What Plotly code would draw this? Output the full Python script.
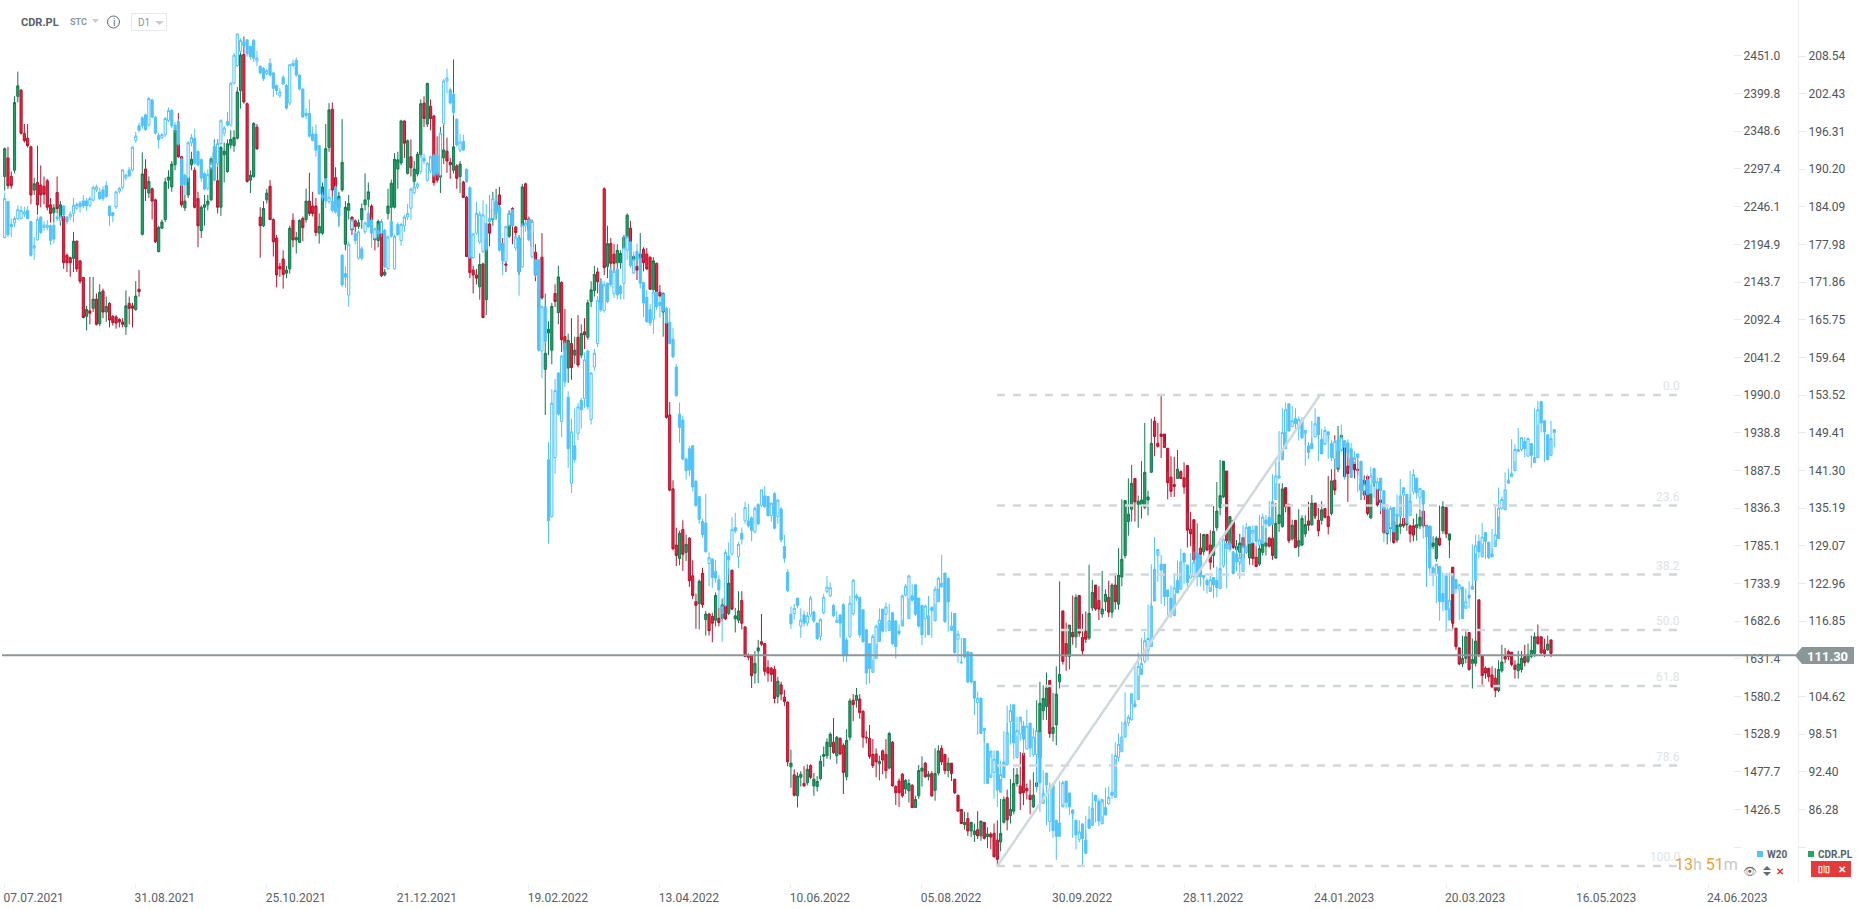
import plotly.graph_objects as go

# CDR.PL daily candles
cdr_open = [189,192,189,190,202,203,196,195.2,193.8,186.8,
188,187.6,187.4,188.3,184.4,183.1,186.4,182.5,182.5,176.2,
175.8,175.7,178.5,175.3,172.6,166.3,167.2,167.6,169.1,165.1,
170.4,167,168.4,166.3,166.2,165.8,165.4,164.6,168.4,168,167.4,170.7,
179.6,190.2,186.3,187,185.2,176.8,180.6,182,188.4,
187.3,190.9,194.3,192.2,183.9,186,190.9,190,185.4,180.2,
184,184.4,185.2,192,188.3,184,192.5,189.8,194.1,194,195.2,
202.9,208.8,200.8,188.4,189,197,182.4,181,185.2,187.4,
182,179,174.4,175.6,173.3,174,181.9,178.7,178.3,182.2,
182,185,184.2,184.2,179.8,179.8,188.7,193.7,199.9,188.8,
184,186.8,178,183.5,182.4,181.8,180.9,182,184.4,185.3,
184.2,179,178.6,181.6,173,183,184,184,190.2,191.2,
198,189.5,192.2,188.2,189.4,192.5,200.9,197.5,200.4,198.8,
189.6,188.9,192,193.1,191.3,190,190.7,189,188.1,185.6,
176,173.8,173,171.1,174.8,169,181.3,182,183.5,186,178.1,
174.8,179.3,183.8,180.8,173.5,180.8,187.8,182.1,179.9,176.7,
167.8,175.9,157.7,163.6,160.8,170,166.9,171.8,163,157.9,
161.9,160,162.9,160,163.8,162.9,168.7,170.5,173.5,168.5,
187,174.4,178.1,176.4,175,
175,177.3,179.1,180.6,175.5,174.4,175.7,177.2,176.4,175.9,
170.6,174.9,170.2,167,165.2,150.3,138.3,129.2,127,131.7,
128,130.3,124.2,120,119.7,124.6,117.1,118,117.6,117,
117.3,117.3,120.7,118.1,125.1,117.2,117,120.2,115.9,111.2,111.2,
108.4,112,113.5,113.2,109.3,109.2,109,104.6,106.5,104.5,
103.7,93.2,91.9,88.5,91.5,90.5,90.6,93.4,90.1,90,
91.3,94.9,95,96.5,97.2,95,97.8,96.7,91.6,98,
104,104,104.2,102.2,98,97.8,95.2,95.3,93.7,95.8,95.2,
93,97.2,90,90.9,92,89.6,89.3,90.2,86.6,88.5,
92.5,93.8,91.6,92.1,89.4,92.2,96.2,95.2,92.6,93.8,
91.2,88.6,86.3,83.8,84.8,82.8,82.2,83,82,84.2,
81.9,82.3,82.4,81.3,81,84.2,88.2,85.3,86,90.5,
90.1,95.4,89.7,88.6,86.7,90,94.6,102.3,103,107.2,
98.6,100,107,118.5,113.2,111.1,115,114.3,121,114.2,
115.2,114.1,119,122.7,120.2,118,120,120.7,118.3,122.7,
119.6,124,127.5,133,135,140,135.8,135.8,135.3,141,
149.3,145.7,147.2,147.2,144.9,140.2,139,140,141.1,140.1,
142.1,131.7,133.3,127.1,128.7,128.1,130.9,129.2,127.5,132,
135.3,137,141.2,129.3,133.2,128.4,128,130.4,127.1,129.5,
127.2,126.1,128,129,130.3,130.3,127.1,132.7,132.2,138.5,
135.8,130.2,133.2,129,129.2,131,133.1,132.5,136,133.2,
133.2,135.1,133.8,134.3,139.7,141.5,146,145.7,142,143.3,
143.3,138.2,139.7,140.3,133.6,139.4,138.4,136.5,135.2,131,
131.9,133,130,132.2,133.5,132.3,132.3,132,132.3,134.7,
132,132.2,129,127,130.3,131.5,135.3,130,125.6,115.7,
112.5,109.9,110.8,115,110,110,120.3,111.2,109.2,109.2,
108.1,107.6,105.6,108.8,111.1,111.9,111.8,109.7,108.8,109,
111.1,110.3,111.1,111.6,114.3,114.3,112.2,112.2,113.8,112.4]

cdr_close = [193.5,187.5,187.5,201,203.7,196,194.8,194,186,187.8,
184.4,186,186.1,184,183,183.9,183.8,184.4,175,175,
175,178.5,174,172,166.1,167.4,166.8,169.1,165,170.2,
167,167.9,165.7,165.3,165.2,165.4,165,168,167.6,167.6,169.6,170.3,
189.4,187,188.2,185,178.4,180.7,181.6,188.1,188.9,
191,196.5,192.2,184.4,185,189,191.8,184,181,184,
184.4,185,191.9,193,184,193.7,193.1,194.3,195,195.3,202.7,
208.7,201.1,188.2,189.2,197.6,193.5,181,183.8,186.3,182,
178.4,173,174,173.1,173.8,180.6,178.7,179.1,181.9,180.7,
185,183,183,179.9,180.9,187.3,193.5,199.8,186.8,187,
185.8,191.3,184,184.6,180.3,180.9,181.5,183.8,185.2,186.5,
181.9,178.7,181.7,172.9,173.5,184.2,187.9,191.8,191.7,198,
194.4,194.8,190.4,190.2,192.6,200.8,198.4,204.1,198.4,188,
188.4,195.5,193.3,191.5,190.9,193.8,188.7,191,185.6,176,
173.4,173,172.5,174.7,166.1,178.8,179.8,183.7,184.9,184.4,177,
174.6,183,181.1,179.9,179,187.3,182,180.3,177.6,173,
170.6,169.3,160.3,164.2,167.9,168.7,172.7,162.5,160.8,162.4,
158,160.8,158.4,163.5,163.3,168.5,170.6,173.1,171.9,171.5,
174.2,178.1,174.9,174.9,177,
176.5,179.1,182.7,178.4,176,173.8,176.4,175,174,170.7,
175.3,170.3,169.6,170,149.9,138.1,128.6,127.5,131.1,127.7,
129.3,123.4,121,119.4,123.3,119.5,118,115.3,116.5,121,
116.6,119.5,117.2,123,118.8,117.7,118.5,116.5,111.1,111,108,
110,112.5,113.1,108.7,108.4,108.2,104.3,107.1,105,103.8,
94,93.8,88.6,91.7,92,90.1,92.8,91.5,91.2,90.8,
94.1,95.2,97.2,98.5,95.5,98,95.3,92.3,97.5,103.9,
103.3,104.8,102,98,97.9,94.9,93.4,94,94.1,94.3,92.6,
98.6,90.1,89,89,88.5,91,90.5,86.6,87.9,92.6,
93,91.6,92,88.5,92.1,95.8,94,92.6,93.8,92.1,
89,86,84,84.2,82.8,84.2,82.8,82,84.4,81.6,
82.3,81.8,78.6,78.2,82.4,87.9,84.6,86.3,90.5,91.9,
88.9,89,89.3,87.9,88.6,90.6,103.5,104.3,106,98.6,
99.6,105,108.2,110.3,111.2,116.2,114.3,120.7,114.9,112,
113.9,118.1,121.5,118.8,118.8,118.8,121.2,118.3,122.7,120,
124.3,126.9,136.4,134.2,139.2,136.2,136.3,136.5,141,145.7,
146.8,145.2,146.8,145,139.3,137.9,138.7,141.5,140,138.6,
131.6,131,126.8,127.5,127.7,130.9,128.4,126.4,131.4,134.7,
137.2,142.8,129.9,133.8,128.8,129,129.5,127.1,129.5,127,
125.7,128.6,129.8,129.5,129,127.5,132.7,134.1,138.3,135.4,
129.9,132.4,128.8,129.9,133.5,132.5,132.4,136,133.9,131.5,
134.9,133.7,132.2,139.6,138.1,144.4,147,140.3,140.8,141.6,
141.4,139,137.3,134.3,137.6,139.6,135.7,136.1,131.2,131.6,
132.7,129.6,132.4,132.6,132.3,131,130.8,132.5,133.7,132.3,
132.4,128.6,129.5,130.3,129.2,135.4,131,131,116.5,112.7,
109.9,110.8,114.3,109,110.6,113.6,111.4,108,108.4,107.8,
106.2,105.6,109,110.2,110.7,111.1,109.8,109,109.9,110.8,
110.1,111.4,112.1,114.3,113.2,111.7,111.6,113.1,111.6,111.3]

cdr_high = [193.7,193.8,189.8,202,206,203.2,197.5,197.5,194,188.8,
194,190.8,189,188.6,185.5,184.5,189,185,184,176.5,
176,180,178.6,175.4,172.7,168,172.7,172.7,170,171.5,
170.8,169.5,168.6,166.5,166.5,166,166,170.5,169.5,168.5,172,173.8,
192.9,191.8,189,187.2,185.4,181,182,188.8,190,
191.5,197,199.3,192.3,186,189.5,193,190.5,186.5,184.3,
186,186,192,195,195,194,194.5,195,196.5,196.5,203.5,
209.5,211.7,201,190,197.8,197.5,184,185,187,188.4,
182.2,179.5,175,177,174.5,181,183,180,182,182.5,
187,189.6,186.5,185.5,183,188,197.5,200.9,201,190.5,
186.5,198.3,185,186,182.5,182,182,184.6,189.5,188,
184.5,180,182,182,174,187,188.5,192.8,193,198.2,
198.1,195,195,191.5,193,201.5,202,204.2,201.5,199,
195.5,197,197.5,195.3,192,208,191,191.5,188.3,185.8,
176.2,174.5,174,176.5,175,179,186,186.5,187,187.3,179,
175.5,183.5,184,181,179.5,187.8,188,182.5,182,178,
171.5,179.8,170,165.5,168.5,171.5,174.5,172,167.5,163.5,
166,163,166.5,165,166,169,172,174.5,174.2,172.5,
187.2,181,179,178,178,
177,179.5,183,181.8,176.3,176,179.8,177.5,177.4,176,
175.9,175,171.4,170.2,165.5,152.4,139.7,132,131.5,133.2,
130.9,130.5,126.7,121.3,123.6,125.5,118.5,118.2,118.2,121.5,
119,120.5,121.5,125.4,125.2,119,121.7,121.7,116,111.6,111.4,
112,113.8,118,113.3,110.5,109.4,109.6,107.8,107,105.7,
103.8,96,92.8,92.3,92.5,93.3,93.6,93.6,92.2,91.7,
95,96.5,97.8,98.8,101.1,98.2,98,97,99.3,104.3,
105,106,105,102.4,99,100,97.7,96.2,95,96,97.7,
98.9,97.4,90.2,91.3,92.2,91.2,91.2,90.4,88.5,93.5,
94.9,94,92.5,92.5,96.2,96.7,96.7,94.5,94.7,
91.4,88.8,86.5,86,85.9,85.8,83.3,84,86,84.4,
83,83.4,82.6,84,84.5,88,88.4,89.5,91.2,93,
93,95.6,91,90.5,91.1,92.3,104,107,106.4,108.5,
103.5,105.2,109.5,123.3,113.4,116.6,116.2,121,121.2,117,
118,118.4,126,123.5,120.5,122.5,125,122,123.4,123,
124.6,128.7,136.6,135.8,140,142.2,137,137.2,142.8,149,
149.7,150,149,153.5,145.9,141,143.6,143.5,144.6,141.3,
142.6,134.4,134.6,129.5,132.7,131.1,131,130,131.6,135.5,
139.4,143,141.3,134.5,133.4,131,130,131,130,130,
127.3,129,130.2,130,132,130.5,133,136,139.2,139.2,
136,134.2,133.3,130.5,135,134,134,136.2,137.3,133.4,
135.2,136.3,134.2,140.4,141.5,147,148.5,146,143,145.2,
143.6,140,140,140.5,138.2,140.5,138.8,137.5,135.4,132.5,
133,133.2,132.8,134,134.2,132.5,132.5,133.5,134.3,135,
133,132.4,130,130.6,130.6,135.6,136.3,131.3,127.1,116,
112.8,111.2,114.5,115.2,111,114,124.3,111.6,110,109.5,
108.5,109.5,109.2,110.5,113,112.5,112.2,110,110.5,112,
112,113,113.2,114.5,115,116.3,113,114,114.5,112.5]

cdr_low = [186.7,187,187,189.5,201,195.8,194.5,193.7,184.5,186,
182.8,184,184.5,183.5,181.5,181.5,183,181,174,173.5,
172.7,173.5,173.5,171.6,166,164,165,167,164.8,164.7,
166,165.4,164.5,164.8,164.3,164.5,164.5,163.3,165,164.5,167.2,169.5,
179.4,185,185.5,182,178.2,176.7,180.5,181.6,187,
186.5,190,192,184,183.4,185.5,190,183.8,177.5,179,
181,183.5,185,191,183,182.6,188,189.6,193.5,193,195,
200,200.8,188,186.3,188.8,193.3,175.8,180.8,184.6,182,
176,171,172.7,170.8,172.5,173.2,177.5,176.5,178.2,178.5,
181.5,182.6,182.5,179.3,178.1,179.5,187.5,193,185,185,
181,186.5,177,182,179.5,180,180.5,180.5,183.5,184,
179,177,177.5,172.7,172.8,182,181,183.8,187,190.8,
192,189.3,189,187.5,189,192.2,197,197,196.5,187.5,
188,186.3,191,189.6,188.6,189.5,187,186.3,185.5,176,
172.5,170,171.5,169,166,166.5,177.7,181,182,180,174.7,
173.5,179,178,178.5,173,180.5,181.5,179.5,177,172,
166.5,169,150.3,160,158.5,167.8,165,160.5,159,155.5,
156,158.6,158,159.5,161,162.5,167.8,169.5,170,167.5,
173,172.5,173,172.5,173,
174,176.5,178.5,176.5,173.2,172.2,174,173.6,173.8,170.6,
170,170,169.4,163,149.7,137.9,128.3,125.8,125.9,125,
126.6,122.4,120.4,115.6,115.5,119,114.5,114.5,113.4,116,
116,116.8,117,117.8,118.6,115,116.5,115.5,111,110.5,106,
106.7,106.8,112.8,108,107,107,103.5,103.5,104,103.1,
93.3,89.8,88.4,86.6,90,90,90.2,91.2,88.5,89.2,
91,93.2,94.5,94.4,95.3,93.7,95.1,88.8,91,97.5,
100.6,102.8,101,96.3,97,94.5,93,91.5,91,92,91.3,
92.8,90,87,86.7,88.2,88.8,87.4,86.5,86.5,88,
90,91.4,91,88.3,87.7,91.8,93.5,92,91.5,90.9,
88.9,86,83.9,83,82,81.8,81,81.5,81.2,81.4,
80,79.8,78.5,77,79.5,84,82.9,84,85.5,90,
86.2,87,87.9,85.5,86.5,89.5,94,100.8,100.8,97.9,
97.3,96.7,105.9,109.8,108.8,109,113,112.5,114.3,111.3,
113.3,113.8,118.5,118.5,117,117.4,118.5,117.5,117.4,118.7,
118.7,122.5,127,130.7,133,133,132,133.5,135,140.9,
143.6,145,143.3,145,136.6,137,137,139.9,139.9,137.5,
128.8,129,125,126.5,127.5,127.5,128.2,125.2,125.5,131.5,
134,136.8,129.5,128.8,128.5,127.5,126,126.5,126,125.9,
125.6,125.8,127.5,127.5,128.8,126.8,126.9,131.3,132,134.5,
129.5,129.9,128.7,127.3,129,130.5,131.5,132.3,133.5,130.6,
132.5,133.5,130.9,134,137.3,141,145,140,136.2,140.5,
141,136.5,136.5,134,133.4,138.6,135.4,134.2,131,129.3,
131,129.4,129.6,131,132,129.6,129.8,129.9,131.8,132,
131.3,128.3,128.5,126.5,129,131,130.3,129.1,115.5,112.2,
109.7,109.4,110,108.8,105.9,109.5,111,106.5,107.5,107,
106,104.5,105.3,108.5,110,110.5,109.5,107.5,107.5,108.5,
109.5,110,110.8,111,113,111.5,111,112,111,110.7]

# CDR.PL sessions picked up on a second look, with the place they belong
cdr_more_at = [349,378,411,425]
cdr_more_open = [136.5,129.3,141.5,132.5]
cdr_more_close = [137,128.8,141.3,132.8]
cdr_more_high = [138,130,143,133.5]
cdr_more_low = [134,127.8,140.5,131.5]

# WIG20 index candles
w20_open = [2204,2253,2222,2224,2230,2230,2236,2241,2226,2190,
2201,2232,2218,2218,2220,2221,2230,2227,2247,2232,
2237,2244,2251,2254,2254,2248,2255,2269,2266,2269,
2275,2247,2238,2246,2267,2272,2285,2296,2296,2336,
2356,2367,2371,2357,2391,2368,2343,2340,2344,2363,
2377,2357,2362,2311,2289,2285,2339,2321,2310,2291,
2271,2299,2328,2305,2332,2346,2362,2357,2414,2438,
2457,2470,2473,2464,2472,2444,2437,2434,2427,2441,
2428,2411,2397,2422,2411,2387,2441,2445,2425,2406,
2373,2373,2345,2345,2329,2284,2253,2253,2273,2255,
2180,2155,2126,2216,2210,2176,2189,2212,2237,2228,
2203,2214,2210,2214,2162,2226,2162,2222,2200,2220,
2232,2244,2265,2273,2294,2282,2295,2316,2316,2289,
2359,2417,2405,2399,2365,2323,2335,2297,2272,2177,
2210,2198,2185,2223,2230,2230,2253,2246,2196,2171,
2221,2242,2190,2203,2164,2228,2178,2174,2174,2050,
2110,1902,1825,1905,2020,1954,2060,1987,1870,1921,
1938,1983,1985,2050,1957,2028,2060,2144,2105,2142,
2160,2128,2161,
2138,2142,2187,2198,2156,2185,2176,2143,2123,2106,
2093,2129,2116,2127,2108,2089,2066,2028,1964,1956,
1903,1917,1921,1873,1852,1816,1761,1767,1750,1739,
1702,1704,1771,1774,1810,1770,1802,1819,1819,1823,
1804,1841,1840,1853,1852,1826,1856,1825,1835,1784,
1749,1692,1693,1714,1676,1691,1691,1695,1680,1662,
1694,1723,1717,1704,1681,1691,1705,1657,1662,1693,
1717,1715,1698,1671,1652,1613,1632,1655,1699,1692,
1670,1694,1683,1669,1676,1686,1717,1732,1714,1704,
1686,1664,1701,1683,1709,1729,1748,1741,1670,1693,
1658,1627,1659,1641,1640,1601,1572,1578,1534,1516,
1470,1477,1506,1450,1491,1487,1546,1569,1497,1529,
1540,1509,1544,1501,1501,1531,1435,1460,1410,1461,
1412,1390,1430,1465,1449,1426,1412,1386,1407,1385,
1413,1405,1446,1438,1407,1429,1434,1450,1443,1497,
1505,1525,1549,1570,1576,1610,1628,1643,1648,1710,
1772,1760,1760,1725,1714,1690,1738,1726,1775,1759,
1741,1743,1775,1772,1742,1738,1723,1742,1738,1727,
1758,1781,1777,1774,1763,1750,1776,1811,1802,1812,
1786,1788,1820,1824,1814,1848,1877,1902,1917,1978,
1947,1958,1945,1955,1938,1921,1924,1933,1960,1930,
1923,1940,1924,1903,1929,1914,1919,1917,1897,1910,
1900,1860,1875,1856,1890,1862,1877,1860,1834,1810,
1837,1828,1825,1854,1855,1826,1859,1877,1851,1860,
1812,1812,1747,1757,1720,1747,1684,1747,1739,1726,
1729,1700,1718,1730,1738,1791,1770,1803,1790,1774,
1784,1795,1834,1870,1879,1887,1913,1916,1927,1907,
1924,1898,1905,1981,1955,1936,1908,1943,1937]

w20_close = [2257,2208,2219,2230,2242,2241,2239,2230,2180,2193,
2229,2211,2221,2221,2200,2202,2232,2232,2235,2226,
2248,2249,2246,2247,2247,2257,2272,2273,2257,2257,
2260,2234,2234,2266,2271,2296,2289,2288,2327,2342,
2350,2356,2351,2393,2368,2346,2337,2344,2366,2377,
2356,2351,2331,2275,2276,2333,2305,2303,2285,2270,
2290,2305,2282,2332,2363,2353,2357,2414,2452,2481,
2472,2465,2454,2450,2448,2448,2428,2420,2431,2425,
2407,2404,2402,2413,2380,2439,2438,2425,2406,2368,
2370,2342,2336,2323,2264,2254,2259,2241,2239,2233,
2140,2150,2195,2228,2200,2212,2176,2224,2219,2210,
2216,2209,2226,2164,2205,2206,2206,2208,2222,2232,
2237,2270,2273,2277,2315,2305,2314,2289,2291,2346,
2417,2421,2387,2374,2330,2334,2323,2280,2177,2209,
2237,2236,2235,2188,2226,2257,2237,2187,2173,2219,
2237,2221,2205,2158,2221,2201,2226,2154,2051,2110,
2063,1819,1979,1996,1964,2043,2008,1917,1940,1902,
1974,1970,2038,1974,2020,2047,2119,2106,2140,2117,
2140,2158,2126,
2128,2190,2205,2166,2174,2174,2142,2115,2090,2088,
2130,2110,2112,2105,2088,2060,2042,1989,1946,1903,
1887,1888,1865,1840,1821,1777,1769,1742,1741,1725,
1693,1776,1766,1807,1805,1787,1794,1837,1812,1806,
1836,1815,1861,1838,1826,1843,1809,1847,1793,1768,
1724,1679,1700,1704,1684,1680,1714,1683,1659,1685,
1715,1729,1728,1690,1684,1680,1636,1636,1707,1738,
1714,1664,1655,1612,1618,1662,1676,1684,1669,1702,
1683,1652,1648,1666,1717,1744,1711,1692,1676,1664,
1703,1690,1697,1726,1741,1734,1682,1709,1676,1640,
1665,1626,1634,1600,1600,1578,1578,1530,1537,1462,
1506,1495,1453,1474,1470,1531,1561,1517,1534,1552,
1522,1540,1510,1525,1534,1463,1448,1476,1455,1398,
1390,1408,1463,1436,1430,1421,1392,1396,1387,1367,
1401,1428,1438,1411,1440,1419,1443,1446,1500,1515,
1525,1544,1584,1566,1621,1625,1656,1659,1703,1753,
1780,1752,1716,1716,1693,1728,1721,1763,1763,1735,
1746,1763,1743,1743,1745,1732,1739,1732,1728,1754,
1794,1788,1747,1763,1769,1784,1810,1788,1806,1791,
1793,1824,1815,1812,1845,1880,1880,1939,1970,1941,
1955,1951,1957,1932,1942,1912,1917,1951,1936,1910,
1942,1936,1905,1927,1892,1932,1928,1878,1904,1905,
1860,1868,1855,1880,1870,1872,1860,1835,1803,1836,
1804,1825,1853,1864,1816,1846,1882,1857,1863,1842,
1797,1755,1760,1709,1709,1698,1711,1720,1727,1732,
1686,1709,1714,1726,1785,1777,1797,1791,1769,1770,
1800,1836,1861,1874,1883,1916,1916,1932,1917,1931,
1908,1905,1970,1952,1940,1902,1931,1939,1923]

w20_high = [2265,2254,2230,2233,2248,2247,2246,2247,2227,2205,
2233,2233,2226,2228,2222,2224,2236,2235,2248,2233,
2258,2252,2254,2262,2258,2260,2275,2276,2272,2274,
2281,2247,2239,2268,2273,2297,2291,2300,2328,2348,
2360,2369,2373,2395,2393,2369,2346,2346,2368,2381,
2379,2361,2365,2313,2291,2335,2352,2323,2312,2293,
2297,2315,2335,2338,2365,2356,2375,2416,2455,2481,
2475,2476,2474,2465,2474,2458,2438,2436,2433,2448,
2429,2412,2407,2425,2413,2440,2446,2449,2426,2407,
2380,2392,2355,2358,2330,2285,2270,2260,2275,2258,
2182,2165,2198,2228,2212,2214,2192,2226,2245,2232,
2218,2222,2228,2216,2207,2228,2208,2225,2224,2235,
2250,2272,2277,2279,2317,2307,2316,2318,2318,2348,
2420,2434,2408,2401,2366,2345,2344,2298,2274,2210,
2253,2240,2255,2250,2262,2262,2258,2248,2197,2220,
2240,2243,2208,2205,2224,2230,2227,2175,2175,2112,
2112,1926,1998,2012,2021,2045,2063,1995,1958,1972,
1979,1986,2048,2052,2021,2053,2125,2146,2145,2143,
2165,2160,2163,
2140,2207,2207,2200,2185,2196,2186,2144,2133,2114,
2133,2131,2124,2128,2110,2108,2081,2032,1980,1962,
1905,1921,1922,1874,1853,1856,1776,1768,1766,1745,
1705,1780,1790,1824,1830,1790,1810,1845,1842,1825,
1839,1843,1862,1866,1853,1844,1858,1849,1838,1800,
1753,1703,1706,1714,1700,1697,1717,1697,1680,1687,
1720,1744,1735,1706,1696,1692,1707,1660,1717,1740,
1720,1699,1679,1660,1625,1665,1678,1700,1694,1708,
1706,1684,1671,1678,1719,1746,1733,1715,1705,1688,
1705,1717,1703,1730,1743,1773,1742,1711,1695,1659,
1670,1660,1650,1641,1641,1586,1586,1577,1518,1508,
1497,1507,1476,1493,1533,1568,1570,1536,1553,1545,
1547,1562,1530,1537,1535,1462,1480,1458,1463,1415,
1410,1465,1466,1452,1435,1414,1404,1412,1391,1418,
1431,1450,1443,1442,1435,1456,1458,1502,1518,1530,
1546,1586,1570,1623,1640,1660,1668,1705,1760,1797,
1773,1773,1745,1716,1731,1746,1765,1781,1769,1752,
1775,1777,1785,1753,1739,1741,1744,1740,1757,1796,
1795,1780,1776,1785,1786,1813,1816,1810,1813,1795,
1827,1829,1827,1846,1882,1905,1941,1972,1980,1970,
1975,1972,1961,1960,1922,1926,1955,1972,1931,1944,
1947,1926,1929,1930,1934,1950,1920,1925,1914,1902,
1870,1877,1882,1892,1875,1878,1861,1835,1838,1839,
1835,1855,1876,1857,1848,1887,1889,1868,1861,1813,
1813,1763,1758,1723,1749,1713,1749,1741,1734,1730,
1712,1727,1737,1787,1800,1800,1816,1791,1775,1808,
1838,1864,1885,1890,1930,1923,1945,1930,1933,1931,
1911,1972,1982,1956,1937,1933,1955,1939]

w20_low = [2203,2205,2205,2218,2228,2229,2232,2229,2178,2174,
2200,2209,2213,2214,2194,2196,2226,2225,2230,2222,
2225,2242,2238,2244,2240,2245,2253,2266,2255,2254,
2258,2220,2225,2243,2264,2270,2282,2286,2294,2333,
2347,2352,2349,2355,2366,2344,2325,2338,2341,2361,
2353,2347,2329,2254,2258,2280,2303,2301,2280,2268,
2268,2296,2280,2300,2330,2342,2355,2355,2412,2436,
2455,2461,2450,2446,2443,2437,2426,2417,2425,2423,
2395,2398,2394,2412,2378,2384,2436,2423,2404,2367,
2365,2340,2335,2314,2262,2244,2250,2238,2237,2218,
2137,2136,2110,2212,2195,2174,2173,2209,2217,2190,
2198,2205,2205,2163,2160,2204,2160,2206,2193,2212,
2228,2228,2263,2270,2290,2280,2292,2286,2288,2287,
2357,2400,2385,2370,2328,2320,2322,2278,2175,2175,
2208,2195,2183,2185,2224,2228,2234,2185,2153,2170,
2219,2219,2186,2125,2163,2199,2176,2150,2049,2013,
2060,1788,1823,1883,1962,1933,2001,1891,1857,1898,
1929,1944,1972,1970,1950,2023,2055,2103,2102,2115,
2137,2122,2120,
2120,2120,2174,2163,2155,2172,2135,2096,2088,2084,
2073,2106,2095,2103,2087,2059,2040,1988,1925,1901,
1875,1880,1859,1838,1815,1776,1730,1728,1735,1700,
1654,1702,1745,1772,1802,1755,1787,1815,1810,1791,
1802,1813,1838,1837,1825,1818,1807,1815,1790,1762,
1722,1672,1685,1700,1660,1675,1688,1680,1657,1656,
1692,1720,1715,1688,1680,1660,1627,1627,1660,1690,
1710,1660,1653,1596,1598,1630,1652,1680,1667,1668,
1680,1650,1632,1663,1684,1714,1709,1690,1674,1650,
1660,1688,1660,1706,1727,1732,1680,1668,1674,1638,
1626,1625,1632,1598,1598,1555,1528,1530,1461,1468,
1475,1441,1430,1468,1480,1544,1515,1495,1527,1520,
1500,1508,1498,1498,1450,1423,1455,1405,1396,1388,
1358,1428,1434,1428,1419,1388,1372,1382,1350,1399,
1400,1436,1409,1404,1417,1431,1433,1441,1495,1492,
1523,1547,1547,1575,1609,1618,1625,1629,1707,1757,
1736,1706,1703,1691,1687,1719,1724,1761,1733,1724,
1741,1740,1730,1730,1724,1720,1729,1714,1715,1755,
1755,1727,1750,1750,1740,1774,1785,1800,1788,1782,
1786,1812,1810,1812,1846,1870,1899,1915,1940,1945,
1948,1943,1928,1930,1894,1903,1932,1934,1900,1921,
1925,1903,1900,1889,1905,1916,1875,1887,1900,1858,
1847,1853,1854,1868,1850,1845,1832,1790,1807,1790,
1810,1822,1852,1814,1815,1856,1855,1849,1836,1795,
1729,1745,1707,1683,1696,1668,1700,1725,1720,1684,
1688,1704,1700,1733,1775,1768,1788,1767,1767,1782,
1793,1825,1858,1878,1885,1900,1914,1913,1905,1906,
1891,1903,1950,1939,1899,1904,1930,1919]

# WIG20 sessions picked up on a second look, with the place they belong
w20_more_at = [20,56,95,125,155,208,239,268,335,365,400,425,445]
w20_more_open = [2232,2333,2262,2312,2220,1818,1680,1718,1544,1788,1925,1755,1836]
w20_more_close = [2236,2340,2258,2308,2224,1800,1690,1730,1552,1780,1912,1745,1848]
w20_more_high = [2240,2345,2266,2318,2228,1822,1695,1733,1555,1792,1930,1758,1852]
w20_more_low = [2228,2328,2254,2304,2212,1796,1676,1716,1540,1777,1905,1730,1834]

w20_ticks = [2451.0,2399.8,2348.6,2297.4,2246.1,2194.9,2143.7,2092.4,2041.2,1990.0,1938.8,
             1887.5,1836.3,1785.1,1733.9,1682.6,1631.4,1580.2,1528.9,1477.7,1426.5,1375.2]
w20_labels = ["2451.0","2399.8","2348.6","2297.4","2246.1","2194.9","2143.7","2092.4","2041.2","1990.0","1938.8",
              "1887.5","1836.3","1785.1","1733.9","1682.6","1631.4","1580.2","1528.9","1477.7","1426.5",""]
cdr_ticks = [208.54,202.43,196.31,190.20,184.09,177.98,171.86,165.75,159.64,153.52,147.41,
             141.30,135.19,129.07,122.96,116.85,110.73,104.62,98.51,92.40,86.28,80.17]
cdr_labels = ["208.54","202.43","196.31","190.20","184.09","177.98","171.86","165.75","159.64","153.52","149.41",
              "141.30","135.19","129.07","122.96","116.85","","104.62","98.51","92.40","86.28",""]
date_ticks = [0,40,80,120,160,200,240,280,320,360,400,440,480,520]
date_labels = ["07.07.2021","31.08.2021","25.10.2021","21.12.2021","19.02.2022","13.04.2022","10.06.2022",
               "05.08.2022","30.09.2022","28.11.2022","24.01.2023","20.03.2023","16.05.2023","24.06.2023"]
fib_names = ["0.0","23.6","38.2","50.0","61.8","78.6","100.0"]
fib_levels = [153.55,135.6,124.4,115.4,106.3,93.4,77.1]
last_price = 111.30

W, H, PLOT_H = 1866, 909, 883
FONT = "Roboto"
GREY = "#cfd8dc"


def px(x):
    return x / W


def py(y):
    return 1 - y / PLOT_H


def merged(values, places, more):
    out = list(values)
    for place, value in sorted(zip(places, more), reverse=True):
        out.insert(place, value)
    return out


def label(fig, x, y, text, size=12, color="#4f5559", anchor="left", bold=False):
    if bold:
        text = "<b>" + text + "</b>"
    fig.add_annotation(xref="paper", yref="paper", x=px(x), y=py(y), text=text, showarrow=False,
                       xanchor=anchor, yanchor="middle", font=dict(family=FONT, size=size, color=color),
                       borderpad=0, xshift=0)


def box(fig, x0, y0, x1, y1, fill, line=None, kind="rect"):
    fig.add_shape(type=kind, xref="paper", yref="paper", x0=px(x0), x1=px(x1), y0=py(y0), y1=py(y1),
                  fillcolor=fill, line=dict(color=line or fill, width=1 if line else 0))


def poly(fig, points, fill, line_width=0):
    path = "M" + " L".join(f"{px(a):.5f},{py(b):.5f}" for a, b in points) + " Z"
    fig.add_shape(type="path", xref="paper", yref="paper", path=path, fillcolor=fill,
                  line=dict(color=fill, width=line_width))


c_open = merged(cdr_open, cdr_more_at, cdr_more_open)
c_close = merged(cdr_close, cdr_more_at, cdr_more_close)
c_high = merged(cdr_high, cdr_more_at, cdr_more_high)
c_low = merged(cdr_low, cdr_more_at, cdr_more_low)
w_open = merged(w20_open, w20_more_at, w20_more_open)
w_close = merged(w20_close, w20_more_at, w20_more_close)
w_high = merged(w20_high, w20_more_at, w20_more_high)
w_low = merged(w20_low, w20_more_at, w20_more_low)

fig = go.Figure()
fig.add_trace(go.Candlestick(
    x=list(range(len(c_close))), open=c_open, high=c_high, low=c_low, close=c_close,
    yaxis="y", whiskerwidth=0, name="CDR.PL", showlegend=False,
    increasing=dict(line=dict(color="#0f7a4c", width=1), fillcolor="#1fa36a"),
    decreasing=dict(line=dict(color="#b5142e", width=1), fillcolor="#ee2140"),
))
fig.add_trace(go.Candlestick(
    x=list(range(len(w_close))), open=w_open, high=w_high, low=w_low, close=w_close,
    yaxis="y2", whiskerwidth=0, name="W20", showlegend=False,
    increasing=dict(line=dict(color="#4fc3fb", width=1), fillcolor="#ffffff"),
    decreasing=dict(line=dict(color="#4fc3fb", width=1), fillcolor="#4fc3fb"),
))

# fibonacci retracement and its trend line
fig.add_shape(type="line", xref="x", yref="y", x0=303, x1=401.5, y0=fib_levels[-1], y1=fib_levels[0],
              line=dict(color=GREY, width=2.5))
for name, level in zip(fib_names, fib_levels):
    fig.add_shape(type="line", xref="paper", yref="y", x0=px(997), x1=px(1678), y0=level, y1=level,
                  line=dict(color=GREY, width=2.5, dash="8px,8px"))
    fig.add_annotation(xref="paper", yref="y", x=px(1682), y=level, yshift=9, text=name, showarrow=False,
                       xanchor="right", yanchor="middle", font=dict(family=FONT, size=12, color="#dde3e6"))

# last price line and tag
fig.add_shape(type="line", xref="paper", yref="y", x0=px(2), x1=px(1796), y0=last_price, y1=last_price,
              line=dict(color="#8b9699", width=2))
poly(fig, [(1795, 655.5), (1802, 647), (1854, 647), (1854, 664), (1802, 664)], "#8b9699")
label(fig, 1827, 656, "111.30", size=13, color="#ffffff", anchor="center", bold=True)

# header
label(fig, 20, 22, "CDR.PL", size=11, color="#56626b", bold=True)
label(fig, 69, 22, "STC", size=9, color="#8b99a5", bold=True)
poly(fig, [(92, 19), (99, 19), (95.5, 23)], "#c9ced2")
box(fig, 107.5, 16, 119.5, 28, "rgba(0,0,0,0)", "#5f6a72", kind="circle")
label(fig, 113.5, 22, "i", size=10, color="#5f6a72", anchor="center")
box(fig, 131.5, 13.5, 166.5, 30.5, "#ffffff", "#e6e8ea")
label(fig, 137, 22, "D1", size=10, color="#8b949c")
poly(fig, [(155, 21), (164, 21), (159.5, 25)], "#c9ced2")

# countdown
label(fig, 1674, 864, "<span style='color:#f5a12e'>13</span>h <span style='color:#f5a12e'>51</span>m",
      size=16, color="#c4c8cb")

# legend of the two series
box(fig, 1757, 851, 1763, 857, "#4fc3fb")
label(fig, 1766, 854, "W20", size=10, color="#56626b", bold=True)
box(fig, 1808, 851, 1814, 857, "#22a76b")
label(fig, 1817, 854, "CDR.PL", size=10, color="#56626b", bold=True)
label(fig, 1750, 871, "👁", size=11, color="#5f6a72", anchor="center")
poly(fig, [(1767, 866), (1771, 870), (1763, 870)], "#5f6a72")
poly(fig, [(1767, 876), (1771, 872), (1763, 872)], "#5f6a72")
label(fig, 1780, 871, "✕", size=10, color="#e53a3a", anchor="center", bold=True)
box(fig, 1811, 861, 1851, 877, "#e53a3a")
label(fig, 1824, 868.5, "▯|▯", size=9, color="#ffffff", anchor="center", bold=True)
label(fig, 1841.5, 869, "✕", size=10, color="#ffffff", anchor="center", bold=True)

fig.update_layout(
    width=W, height=H, margin=dict(l=0, r=0, t=0, b=H - PLOT_H),
    paper_bgcolor="#ffffff", plot_bgcolor="#ffffff", showlegend=False,
    boxmode="overlay", boxgap=0.05, dragmode=False,
    xaxis=dict(domain=[0, 1798 / W], range=[-1.435, 547.4], rangeslider=dict(visible=False),
               tickmode="array", tickvals=date_ticks, ticktext=date_labels, ticks="outside",
               ticklen=4, tickcolor="#eceeef", showgrid=False, zeroline=False, showline=False,
               ticklabelshift=29, tickfont=dict(family=FONT, size=12, color="#5a6066")),
    yaxis=dict(range=[74.35, 217.63], side="right", anchor="free", position=1798 / W, tickmode="array",
               tickvals=cdr_ticks, ticktext=cdr_labels, ticks="outside", ticklen=7, tickcolor="#e8eaec",
               showline=True, linecolor="#eceeef", showgrid=False, zeroline=False,
               tickfont=dict(family=FONT, size=12, color="#4f5559")),
    yaxis2=dict(range=[1326.6, 2527.1], side="right", anchor="free", position=1733 / W, overlaying="y",
                tickmode="array", tickvals=w20_ticks, ticktext=w20_labels, ticks="outside", ticklen=7,
                tickcolor="#e8eaec", showline=False, showgrid=False, zeroline=False,
                tickfont=dict(family=FONT, size=12, color="#4f5559")),
)

fig.write_html("out.html", config={"displayModeBar": False},
               post_script="document.body.style.margin='0';")
